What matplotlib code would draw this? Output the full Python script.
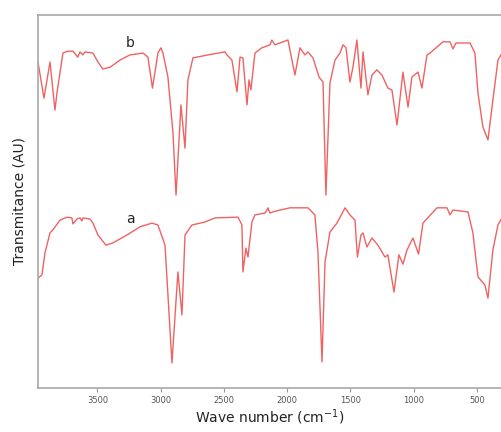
import numpy as np
import matplotlib.pyplot as plt

# spectrum b (upper trace), wavenumber in cm-1, transmittance in AU
wn_b = [3970, 3923, 3875, 3836, 3820, 3773, 3733, 3694, 3656, 3638, 3615, 3599,
        3536, 3496, 3457, 3401, 3322, 3243, 3140, 3101, 3065, 3022, 2998, 2982,
        2943, 2903, 2879, 2840, 2808, 2785, 2745, 2595, 2492, 2476, 2437, 2397,
        2373, 2350, 2318, 2302, 2287, 2255, 2200, 2136, 2121, 2097, 1994, 1939,
        1899, 1860, 1836, 1796, 1749, 1717, 1694, 1662, 1622, 1583, 1559, 1535,
        1504, 1480, 1449, 1417, 1401, 1362, 1330, 1291, 1251, 1204, 1172, 1132,
        1085, 1045, 1014, 966, 935, 895, 871, 769, 713, 690, 666, 555, 516, 492,
        453, 413, 374, 334, 302]
t_b = [87.4, 77.7, 87.4, 74.5, 79.1, 89.8, 90.3, 90.3, 88.7, 90.1, 89.3, 90.1,
       89.8, 87.4, 85.5, 86.0, 87.9, 89.3, 89.8, 88.7, 80.4, 89.8, 91.2, 89.8,
       83.4, 68.4, 51.7, 75.9, 64.3, 82.6, 88.5, 89.5, 90.1, 89.3, 87.9, 79.4,
       88.7, 88.5, 75.9, 82.6, 79.9, 89.8, 91.2, 92.0, 93.3, 92.0, 93.3, 83.9,
       91.2, 89.3, 90.1, 88.5, 83.4, 82.0, 51.7, 81.8, 87.9, 89.8, 92.0, 91.2,
       82.0, 86.1, 93.3, 80.4, 90.1, 78.6, 83.9, 85.3, 83.9, 80.4, 79.9, 70.5,
       84.7, 75.3, 83.4, 84.7, 80.4, 89.3, 89.8, 92.8, 92.8, 90.9, 92.5, 92.5,
       89.8, 79.1, 70.0, 66.5, 77.2, 87.9, 89.8]

# spectrum a (lower trace)
wn_a = [3970, 3939, 3915, 3875, 3852, 3796, 3741, 3702, 3694, 3662, 3638, 3623,
        3615, 3559, 3536, 3496, 3433, 3378, 3267, 3164, 3069, 3022, 2966, 2911,
        2864, 2832, 2808, 2753, 2650, 2571, 2389, 2358, 2350, 2326, 2310, 2279,
        2255, 2176, 2160, 2152, 2136, 2113, 2057, 1978, 1836, 1781, 1757, 1725,
        1701, 1662, 1607, 1543, 1504, 1464, 1445, 1417, 1401, 1370, 1330, 1283,
        1227, 1204, 1156, 1117, 1085, 1053, 1006, 962, 927, 816, 737, 713, 690,
        571, 532, 492, 437, 413, 374, 334, 302]
t_a = [29.5, 30.3, 36.2, 41.6, 42.4, 45.0, 45.8, 45.6, 44.0, 45.3, 45.6, 44.8,
       45.6, 45.3, 44.2, 41.0, 38.3, 38.9, 41.0, 43.2, 44.2, 43.7, 38.3, 6.7,
       31.1, 19.6, 41.0, 43.7, 44.5, 45.6, 45.8, 43.7, 31.1, 37.5, 35.1, 44.5,
       46.4, 46.9, 47.7, 48.3, 46.9, 47.2, 47.7, 48.3, 48.3, 46.4, 36.5, 7.0,
       33.8, 41.8, 44.2, 48.3, 46.4, 45.0, 35.1, 41.0, 41.6, 37.8, 40.2, 38.3,
       35.1, 35.7, 25.7, 35.7, 33.2, 37.0, 40.2, 35.9, 44.2, 48.3, 48.3, 46.4,
       47.7, 47.2, 41.6, 29.8, 27.6, 24.1, 37.0, 43.7, 45.6]

xticks = [3500, 3000, 2500, 2000, 1500, 1000, 500]

fig = plt.figure(figsize=(5.02, 4.32), dpi=100)
ax = fig.add_axes([0.0757, 0.1019, 0.9243, 0.8634])

line_col = '#f06262'
ax.plot(wn_b, t_b, color=line_col, lw=1.0)
ax.plot(wn_a, t_a, color=line_col, lw=1.0)

ax.text(3243, 92.5, 'b', fontsize=10, ha='center', va='center', color='#222222')
ax.text(3243, 45.3, 'a', fontsize=10, ha='center', va='center', color='#222222')

ax.set_xlim(3970, 302)
ax.set_ylim(0, 100)
ax.set_xticks(xticks)
ax.set_xticklabels([str(v) for v in xticks])
ax.set_yticks([])
ax.tick_params(axis='x', direction='out', length=3, width=0.8, colors='#999999',
               labelsize=6, labelcolor='#555555', pad=2.5)

for side in ['top', 'left', 'bottom']:
    ax.spines[side].set_color('#a8a8a8')
    ax.spines[side].set_linewidth(1.2)
ax.spines['right'].set_visible(False)

ax.set_xlabel('Wave number (cm$^{-1}$)', fontsize=10, color='#222222', labelpad=2)
ax.set_ylabel('Transmitance (AU)', fontsize=10, color='#222222', labelpad=8)

fig.savefig('out.png', dpi=100)
